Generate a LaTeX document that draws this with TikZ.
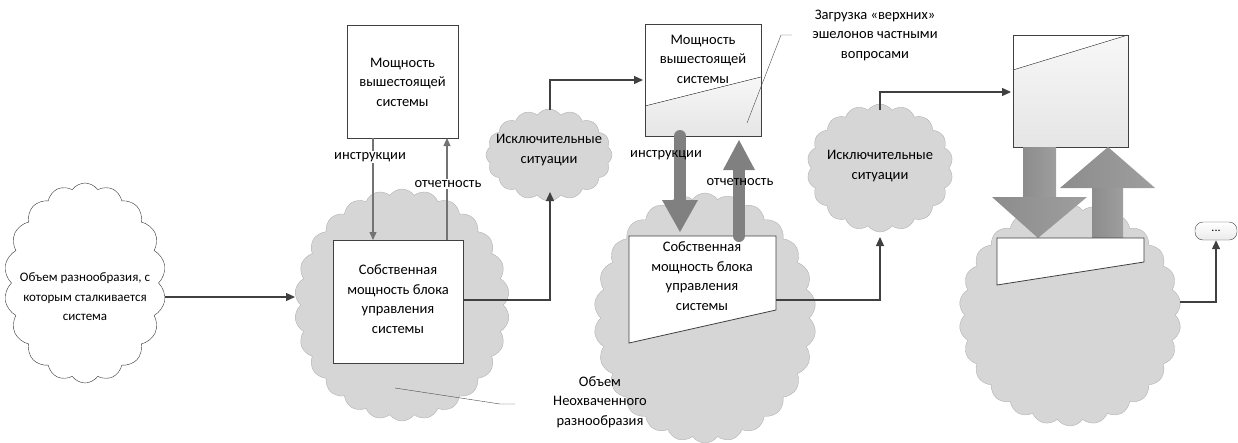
\documentclass[tikz,border=0pt]{standalone}
\usepackage{fontspec}
\setmainfont{Carlito}
\usetikzlibrary{shapes.symbols,arrows.meta}
\begin{document}
\begin{tikzpicture}[x=1pt,y=-1pt,
  txt/.style={font=\fontsize{14.5}{19.5}\selectfont,align=center,inner sep=0},
  gcloud/.style={cloud,cloud puffs=26,cloud puff arc=110,fill=black!16,draw=black!30,inner sep=0},
  box/.style={draw=black!75,fill=white,line width=0.8pt},
  conn/.style={draw=black!75,line width=1.3pt,-{Triangle[length=9pt,width=8pt]}},
  thin/.style={draw=black!55,line width=1.1pt,-{Triangle[length=8pt,width=7pt]}},
  fat/.style={fill=black!50},
]
\useasboundingbox (0,0) rectangle (1238,442);
% clouds
\node[cloud,cloud puffs=18,cloud puff arc=110,draw=black!80,fill=white,minimum width=162,minimum height=200] (c0) at (85,283) {};
\node[txt,font=\fontsize{13}{19.5}\selectfont] at (85,297) {Объем разнообразия, с\\которым сталкивается\\система};
\node[gcloud,minimum width=215,minimum height=232] (c1) at (402,305) {};
\node[gcloud,cloud puffs=16,minimum width=126,minimum height=92] (e1) at (549,155) {};
\node[txt] at (549,150) {Исключительные\\ситуации};
\node[gcloud,minimum width=222,minimum height=250] (c2) at (705,318) {};
\node[gcloud,cloud puffs=18,minimum width=146,minimum height=128] (e2) at (880,168) {};
\node[txt] at (880,166) {Исключительные\\ситуации};
\node[gcloud,minimum width=222,minimum height=222] (c3) at (1070,315) {};
% block 1
\node[box,minimum width=111,minimum height=113,anchor=north west] (b1) at (347,25) {};
\node[txt] at (402.5,82) {Мощность\\вышестоящей\\системы};
\node[box,minimum width=130,minimum height=123,anchor=north west] (b2) at (333,240) {};
\node[txt] at (398,299) {Собственная\\мощность блока\\управления\\системы};
\coordinate (i1a) at (373,138); \coordinate (i1b) at (373,240);
\coordinate (o1a) at (447,240); \coordinate (o1b) at (447,138);
\draw[thin] (i1a) -- (i1b);
\draw[thin] (o1a) -- (o1b);
\node[txt,fill=white,inner sep=1pt] (l1) at (370,157) {инструкции};
\node[txt,fill=white,inner sep=1pt] (l2) at (448,184) {отчетность};
% connectors
\coordinate (p1) at (295,297);
\draw[conn] (165,297) -- (p1);
\coordinate (q1) at (550,300); \coordinate (q2) at (550,192);
\draw[conn] (b2.east |- q1) -- (q1) -- (q2);
\coordinate (r1) at (550,80);
\draw[conn] (550,110) -- (r1) -- (643,80);
% block 2
\draw[box] (645,24) rectangle (761,136);
\fill[top color=black!3,bottom color=black!10] (645,106) -- (761,77) -- (761,136) -- (645,136) -- cycle;
\draw[black!75,line width=0.8pt] (645,24) rectangle (761,136);
\draw[black!75] (645,106) -- (761,77);
\node[txt] at (703,59) {Мощность\\вышестоящей\\системы};
\draw[black!70] (747,123) -- (781,35) -- (792,35);
\node[txt] (z) at (875,35) {Загрузка «верхних»\\эшелонов частными\\вопросами};
\draw[box] (629,236) -- (776,236) -- (776,310) -- (629,343) -- cycle;
\node[txt] at (702,276) {Собственная\\мощность блока\\управления\\системы};
\draw[black!50,line width=12pt,line cap=round] (680,136) -- (680,205);
\fill[fat] (662,200) -- (698,200) -- (680,232) -- cycle;
\draw[black!50,line width=12pt,line cap=round] (739,236) -- (739,165);
\fill[fat] (723,170) -- (755,170) -- (739,140) -- cycle;
\node[txt] (l3) at (666,155) {инструкции};
\node[txt] (l4) at (740,182) {отчетность};
\draw[conn] (776,300) -- (880,300) -- (880,237);
\draw[conn] (880,110) -- (880,92) -- (1011,92);
% block 3
\draw[box] (1013,35) rectangle (1128,147);
\fill[top color=black!3,bottom color=black!10] (1013,70) -- (1128,35) -- (1128,147) -- (1013,147) -- cycle;
\draw[black!75,line width=0.8pt] (1013,35) rectangle (1128,147);
\draw[black!75] (1013,70) -- (1128,35);
\shade[left color=black!45,right color=black!38] (1023,147) rectangle (1056,197);
\shade[left color=black!45,right color=black!38] (992,197) -- (1087,197) -- (1038,238) -- cycle;
\shade[left color=black!45,right color=black!38] (1092,238) rectangle (1123,188);
\shade[left color=black!45,right color=black!38] (1060,188) -- (1155,188) -- (1108,147) -- cycle;
\draw[box] (997,238) -- (1144,238) -- (1144,262) -- (997,285) -- cycle;
\node[draw=black!75,rounded corners=8pt,top color=white,bottom color=black!8,minimum width=42,minimum height=18,inner sep=0,font=\fontsize{12}{12}\selectfont] (dots) at (1216,231) {...};
\draw[conn] (1180,302) -- (1216,302) -- (dots.south);
% callout bottom
\draw[black!70] (395,388) -- (500,404) -- (515,404);
\node[txt] at (600,402) {Объем\\Неохваченного\\разнообразия};
\end{tikzpicture}
\end{document}
